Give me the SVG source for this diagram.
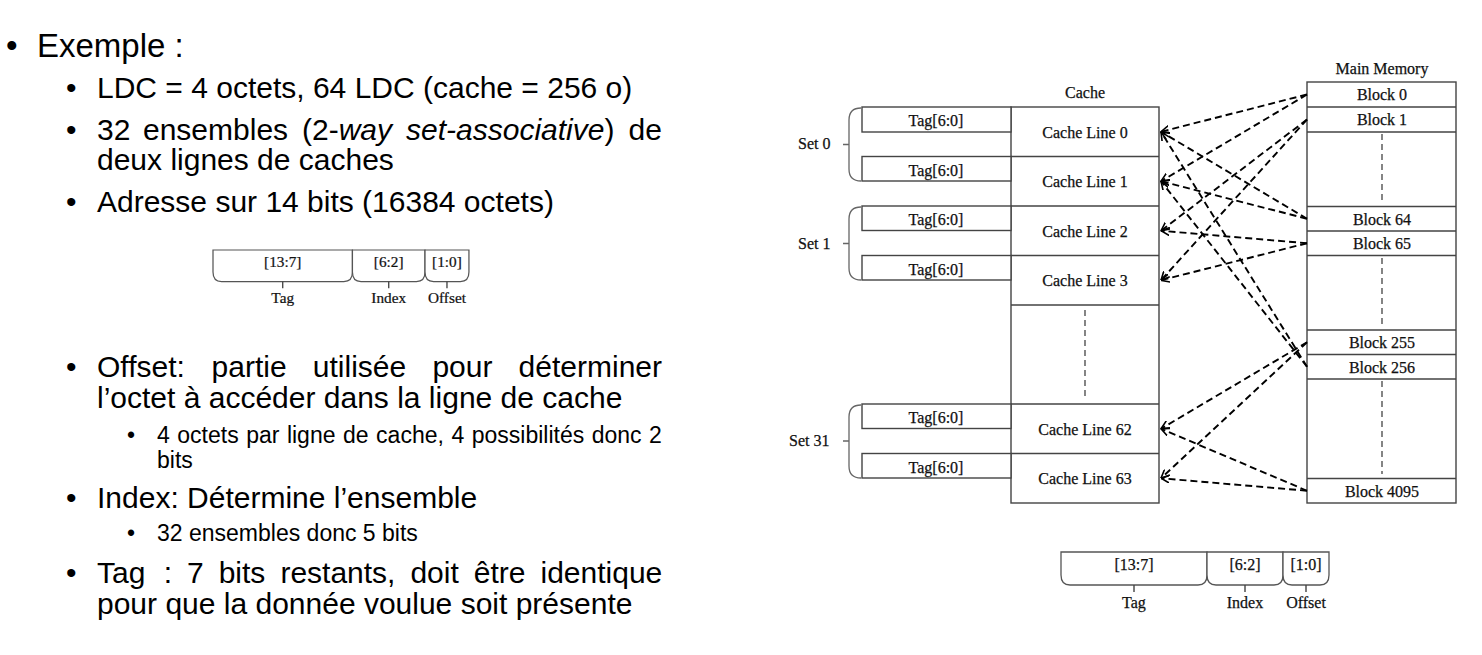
<svg xmlns="http://www.w3.org/2000/svg" width="1482" height="655" viewBox="0 0 1482 655">
<style>
.t{font-family:"Liberation Sans",Arial,sans-serif;fill:#000}
.l1{font-size:33px}.l2{font-size:30px}.l3{font-size:23px}
.s{font-family:"Liberation Serif","Times New Roman",serif;font-size:16px;fill:#111;stroke:#111;stroke-width:0.25}
.c{text-anchor:middle}
.box{fill:#fff;stroke:#444;stroke-width:1.4}
.ln{fill:none;stroke:#444;stroke-width:1.4}
.vd{fill:none;stroke:#444;stroke-width:1.3;stroke-dasharray:6 4}
.br{fill:none;stroke:#666;stroke-width:1.3}
.ar{fill:none;stroke:#000;stroke-width:1.9;stroke-dasharray:7 4;marker-end:url(#ah)}
.bf{fill:#fff;stroke:#555;stroke-width:1.3}
</style>
<defs>
<marker id="ah" viewBox="0 0 10 10" refX="9.5" refY="5" markerWidth="9" markerHeight="9" markerUnits="userSpaceOnUse" orient="auto">
<path d="M0,0.5 L9.5,5 L0,9.5" fill="none" stroke="#000" stroke-width="1.8" stroke-dasharray="none"/>
</marker>
<g id="addr">
<path class="bf" d="M0,0 H146 V23 Q146,33 137,33 H9 Q0,33 0,23 Z"/>
<path class="bf" d="M146,0 H222 V23 Q222,33 213,33 H155 Q146,33 146,23 Z"/>
<path class="bf" d="M222,0 H268 V23 Q268,33 259,33 H231 Q222,33 222,23 Z"/>
<path class="ln" d="M73,33 V40 M184,33 V40 M245,33 V40" stroke="#555"/>
<text class="s c" x="73" y="18">[13:7]</text>
<text class="s c" x="184" y="18">[6:2]</text>
<text class="s c" x="245" y="18">[1:0]</text>
<text class="s c" x="73" y="56">Tag</text>
<text class="s c" x="184" y="56">Index</text>
<text class="s c" x="245" y="56">Offset</text>
</g>
</defs>
<rect width="1482" height="655" fill="#fff"/>

<g id="text-left">
<text class="t l1" x="6" y="57">•</text>
<text class="t l1" x="37" y="57">Exemple :</text>

<text class="t l2" x="66" y="98">•</text>
<text class="t l2" x="97" y="98">LDC = 4 octets, 64 LDC (cache = 256 o)</text>

<text class="t l2" x="66" y="140">•</text>
<text class="t l2" y="140"><tspan x="97">32</tspan><tspan x="143">ensembles</tspan><tspan x="302">(2-</tspan><tspan font-style="italic">way</tspan><tspan x="406" font-style="italic">set-associative</tspan><tspan>)</tspan><tspan x="628.6">de</tspan></text>
<text class="t l2" x="97" y="170">deux lignes de caches</text>

<text class="t l2" x="66" y="212">•</text>
<text class="t l2" x="97" y="212">Adresse sur 14 bits (16384 octets)</text>

<text class="t l2" x="66" y="377">•</text>
<text class="t l2" y="377"><tspan x="97">Offset:</tspan><tspan x="211.6">partie</tspan><tspan x="312.8">utilisée</tspan><tspan x="432.4">pour</tspan><tspan x="518.6">déterminer</tspan></text>
<text class="t l2" x="97" y="408">l’octet à accéder dans la ligne de cache</text>

<text class="t l3" x="127" y="443">•</text>
<text class="t l3" y="443"><tspan x="157">4</tspan><tspan x="177.3">octets</tspan><tspan x="246.2">par</tspan><tspan x="286.9">ligne</tspan><tspan x="343">de</tspan><tspan x="376.1">cache,</tspan><tspan x="451.4">4</tspan><tspan x="471.7">possibilités</tspan><tspan x="591.7">donc</tspan><tspan x="649.1">2</tspan></text>
<text class="t l3" x="157" y="468">bits</text>

<text class="t l2" x="66" y="508">•</text>
<text class="t l2" x="97" y="508">Index: Détermine l’ensemble</text>

<text class="t l3" x="127" y="541">•</text>
<text class="t l3" x="157" y="541">32 ensembles donc 5 bits</text>

<text class="t l2" x="66" y="583">•</text>
<text class="t l2" y="583"><tspan x="97">Tag</tspan><tspan x="163.7">:</tspan><tspan x="187">7</tspan><tspan x="218.7">bits</tspan><tspan x="280.4">restants,</tspan><tspan x="410.4">doit</tspan><tspan x="473.8">être</tspan><tspan x="540.5">identique</tspan></text>
<text class="t l2" x="97" y="614">pour que la donnée voulue soit présente</text>
</g>

<g id="addr-small" transform="translate(213,250) scale(0.955)"><use href="#addr"/></g>
<g id="addr-large" transform="translate(1061,552)"><use href="#addr"/></g>

<g id="cache">
<text class="s c" x="1085" y="98">Cache</text>
<rect class="box" x="1011" y="107" width="148" height="396"/>
<path class="ln" d="M1011,156.5 H1159 M1011,206 H1159 M1011,255.5 H1159 M1011,305 H1159 M1011,404 H1159 M1011,453.5 H1159"/>
<path class="vd" d="M1085,310 V400"/>
</g>

<g id="cache-line-0"><text class="s c" x="1085" y="137.5">Cache Line 0</text></g>
<g id="cache-line-1"><text class="s c" x="1085" y="187">Cache Line 1</text></g>
<g id="cache-line-2"><text class="s c" x="1085" y="236.5">Cache Line 2</text></g>
<g id="cache-line-3"><text class="s c" x="1085" y="286">Cache Line 3</text></g>
<g id="cache-line-62"><text class="s c" x="1085" y="434.5">Cache Line 62</text></g>
<g id="cache-line-63"><text class="s c" x="1085" y="484">Cache Line 63</text></g>

<g id="tags">
<rect class="box" x="862" y="107" width="149" height="25"/><text class="s c" x="936" y="126">Tag[6:0]</text>
<rect class="box" x="862" y="156.5" width="149" height="24.5"/><text class="s c" x="936" y="175.5">Tag[6:0]</text>
<rect class="box" x="862" y="206" width="149" height="24.5"/><text class="s c" x="936" y="225">Tag[6:0]</text>
<rect class="box" x="862" y="255.5" width="149" height="24.5"/><text class="s c" x="936" y="274.5">Tag[6:0]</text>
<rect class="box" x="862" y="404" width="149" height="24.5"/><text class="s c" x="936" y="423">Tag[6:0]</text>
<rect class="box" x="862" y="453.5" width="149" height="24.5"/><text class="s c" x="936" y="472.5">Tag[6:0]</text>
</g>

<g id="set-0">
<path class="br" d="M861,108 Q849,108 849,120 V169 Q849,181 861,181 M843,144.5 H849"/>
<text class="s" x="798" y="149">Set 0</text>
</g>
<g id="set-1">
<path class="br" d="M861,207 Q849,207 849,219 V268 Q849,280 861,280 M843,243.5 H849"/>
<text class="s" x="798" y="248.5">Set 1</text>
</g>
<g id="set-31">
<path class="br" d="M861,405 Q849,405 849,417 V466 Q849,478 861,478 M843,441 H849"/>
<text class="s" x="789" y="446">Set 31</text>
</g>

<g id="main-memory">
<text class="s c" x="1382" y="74">Main Memory</text>
<rect class="box" x="1307" y="82" width="149" height="421"/>
<path class="ln" d="M1307,107 H1456 M1307,132 H1456 M1307,206.5 H1456 M1307,231 H1456 M1307,255.5 H1456 M1307,330 H1456 M1307,354.5 H1456 M1307,379 H1456 M1307,478.5 H1456"/>
<path class="vd" d="M1382,134 V202 M1382,258 V326 M1382,381 V474"/>
</g>
<g id="block-0"><text class="s c" x="1382" y="100">Block 0</text></g>
<g id="block-1"><text class="s c" x="1382" y="125">Block 1</text></g>
<g id="block-64"><text class="s c" x="1382" y="224.5">Block 64</text></g>
<g id="block-65"><text class="s c" x="1382" y="249">Block 65</text></g>
<g id="block-255"><text class="s c" x="1382" y="348">Block 255</text></g>
<g id="block-256"><text class="s c" x="1382" y="372.5">Block 256</text></g>
<g id="block-4095"><text class="s c" x="1382" y="496.5">Block 4095</text></g>

<g id="connectors">
<path class="ar" d="M1307,94.5 L1161,131.75"/>
<path class="ar" d="M1307,94.5 L1161,181.25"/>
<path class="ar" d="M1307,119.5 L1161,230.75"/>
<path class="ar" d="M1307,119.5 L1161,280.25"/>
<path class="ar" d="M1307,218.75 L1161,131.75"/>
<path class="ar" d="M1307,218.75 L1161,181.25"/>
<path class="ar" d="M1307,243.25 L1161,230.75"/>
<path class="ar" d="M1307,243.25 L1161,280.25"/>
<path class="ar" d="M1307,342.25 L1161,428.75"/>
<path class="ar" d="M1307,342.25 L1161,478.25"/>
<path class="ar" d="M1307,366.75 L1161,131.75"/>
<path class="ar" d="M1307,366.75 L1161,181.25"/>
<path class="ar" d="M1307,490.75 L1161,428.75"/>
<path class="ar" d="M1307,490.75 L1161,478.25"/>
</g>
</svg>
